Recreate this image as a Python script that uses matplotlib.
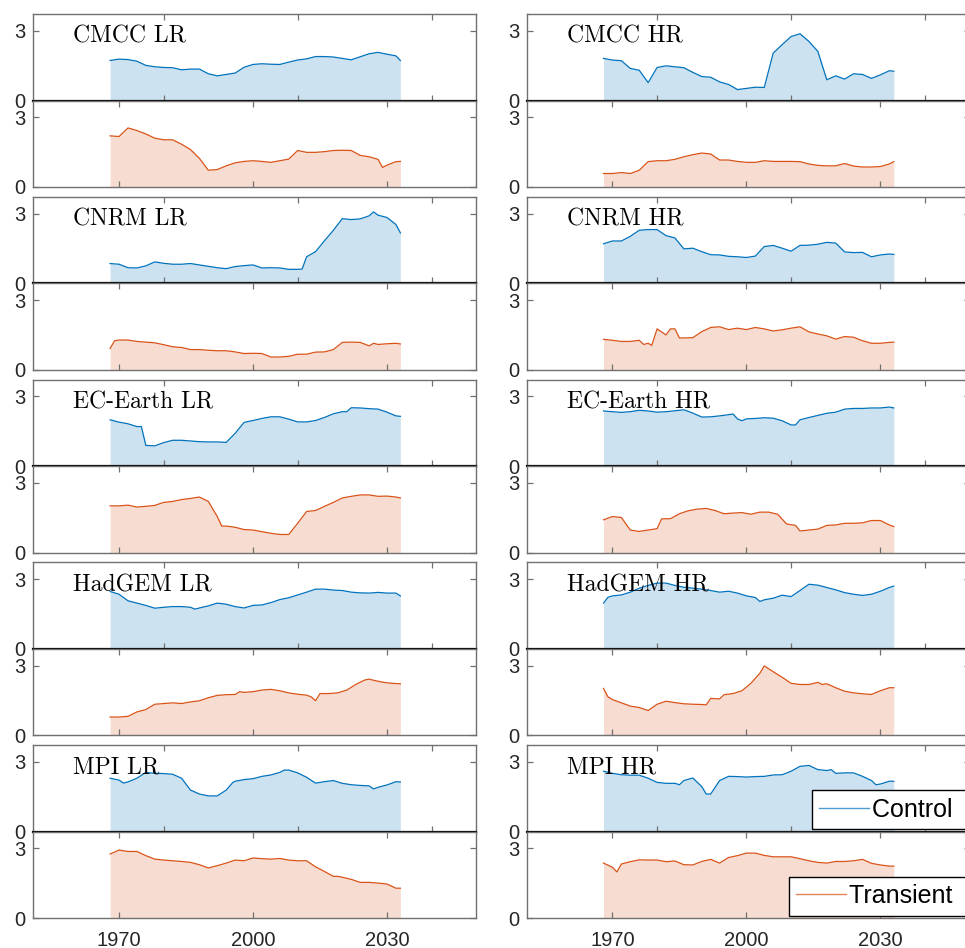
import matplotlib
matplotlib.use('Agg')
import matplotlib.pyplot as plt
from matplotlib.lines import Line2D

plt.rcParams['font.family'] = ['Liberation Sans', 'DejaVu Sans']

# ---------------- data: (year, value) pairs ----------------
cmcc_lr_ctrl = [(1968,1.72),(1970,1.78),(1972,1.76),(1974,1.69),(1976,1.51),(1978,1.45),(1980,1.42),(1982,1.41),
                (1984,1.32),(1986,1.35),(1988,1.35),(1990,1.15),(1992,1.06),(1994,1.12),(1996,1.18),(1998,1.43),
                (2000,1.55),(2002,1.58),(2004,1.56),(2006,1.55),(2008,1.65),(2010,1.74),(2012,1.79),(2014,1.89),
                (2016,1.89),(2018,1.87),(2020,1.81),(2022,1.75),(2024,1.88),(2026,2.01),(2028,2.07),(2030,1.99),
                (2032,1.92),(2033,1.72)]
cmcc_lr_tran = [(1968,2.20),(1970,2.17),(1972,2.54),(1974,2.43),(1976,2.28),(1978,2.10),(1980,2.03),(1982,2.03),
                (1984,1.84),(1986,1.61),(1988,1.23),(1990,0.72),(1992,0.75),(1994,0.91),(1996,1.04),(1998,1.10),
                (2000,1.13),(2002,1.10),(2004,1.06),(2006,1.13),(2008,1.20),(2010,1.57),(2012,1.49),(2014,1.49),
                (2016,1.52),(2018,1.57),(2020,1.58),(2022,1.57),(2024,1.36),(2026,1.30),(2028,1.19),(2029,0.84),
                (2030,0.94),(2032,1.09),(2033,1.10)]
cmcc_hr_ctrl = [(1968,1.81),(1970,1.74),(1972,1.71),(1974,1.38),(1976,1.30),(1978,0.77),(1980,1.42),(1982,1.49),
                (1984,1.45),(1986,1.41),(1988,1.21),(1990,1.03),(1992,1.00),(1994,0.80),(1996,0.69),(1998,0.47),
                (2000,0.52),(2002,0.57),(2004,0.56),(2006,2.04),(2008,2.40),(2010,2.75),(2012,2.87),(2014,2.54),
                (2016,2.11),(2018,0.89),(2020,1.06),(2022,0.92),(2024,1.15),(2026,1.12),(2028,0.95),(2030,1.10),
                (2032,1.28),(2033,1.26)]
cmcc_hr_tran = [(1968,0.58),(1970,0.58),(1972,0.62),(1974,0.58),(1976,0.72),(1978,1.09),(1980,1.13),(1982,1.13),
                (1984,1.19),(1986,1.30),(1988,1.39),(1990,1.46),(1992,1.42),(1994,1.16),(1996,1.16),(1998,1.10),
                (2000,1.06),(2002,1.06),(2004,1.13),(2006,1.10),(2008,1.10),(2010,1.10),(2012,1.09),(2014,0.99),
                (2016,0.93),(2018,0.91),(2020,0.91),(2022,1.01),(2024,0.90),(2026,0.86),(2028,0.86),(2030,0.88),
                (2032,0.99),(2033,1.09)]

cnrm_lr_ctrl = [(1968,0.85),(1970,0.82),(1972,0.67),(1974,0.66),(1976,0.75),(1978,0.92),(1980,0.86),(1982,0.82),
                (1984,0.82),(1986,0.85),(1988,0.79),(1990,0.73),(1992,0.67),(1994,0.63),(1996,0.72),(1998,0.76),
                (2000,0.79),(2002,0.66),(2004,0.67),(2006,0.66),(2008,0.60),(2010,0.60),(2011,0.61),(2012,1.14),
                (2014,1.36),(2016,1.83),(2018,2.28),(2020,2.78),(2022,2.74),(2024,2.77),(2026,2.90),(2027,3.07),
                (2028,2.93),(2030,2.83),(2032,2.53),(2033,2.17)]
cnrm_lr_tran = [(1968,0.92),(1969,1.25),(1970,1.28),(1972,1.28),(1974,1.22),(1976,1.19),(1978,1.16),(1980,1.08),
                (1982,0.99),(1984,0.96),(1986,0.87),(1988,0.87),(1990,0.84),(1992,0.82),(1994,0.82),(1996,0.77),
                (1998,0.70),(2000,0.71),(2002,0.70),(2004,0.55),(2006,0.55),(2008,0.58),(2010,0.67),(2012,0.67),
                (2014,0.76),(2016,0.77),(2018,0.87),(2020,1.18),(2022,1.19),(2024,1.18),(2026,1.03),(2027,1.14),
                (2028,1.09),(2030,1.12),(2032,1.14),(2033,1.11)]
cnrm_hr_ctrl = [(1968,1.70),(1970,1.82),(1972,1.82),(1974,2.02),(1976,2.28),(1978,2.31),(1980,2.31),(1982,2.05),
                (1984,1.95),(1986,1.48),(1988,1.51),(1990,1.36),(1992,1.23),(1994,1.22),(1996,1.16),(1998,1.14),
                (2000,1.11),(2002,1.17),(2004,1.58),(2006,1.63),(2008,1.51),(2010,1.38),(2012,1.63),(2014,1.64),
                (2016,1.68),(2018,1.76),(2020,1.73),(2022,1.35),(2024,1.32),(2026,1.33),(2028,1.14),(2030,1.22),
                (2032,1.26),(2033,1.24)]
cnrm_hr_tran = [(1968,1.31),(1970,1.27),(1972,1.22),(1974,1.22),(1976,1.27),(1977,1.09),(1978,1.14),(1978.8,1.05),
                (1980,1.76),(1982,1.50),(1983,1.76),(1984,1.76),(1985,1.37),(1986,1.37),(1988,1.38),(1990,1.64),
                (1992,1.82),(1994,1.85),(1996,1.73),(1998,1.79),(2000,1.73),(2002,1.82),(2004,1.76),(2006,1.67),
                (2008,1.72),(2010,1.79),(2012,1.85),(2014,1.63),(2016,1.54),(2018,1.46),(2020,1.32),(2022,1.43),
                (2024,1.40),(2026,1.25),(2028,1.14),(2030,1.14),(2032,1.18),(2033,1.19)]

ec_lr_ctrl = [(1968,1.99),(1970,1.89),(1972,1.82),(1974,1.70),(1975,1.70),(1976,0.89),(1978,0.87),(1980,1.01),
              (1982,1.11),(1984,1.11),(1986,1.08),(1988,1.05),(1990,1.04),(1992,1.04),(1994,1.02),(1996,1.41),
              (1998,1.88),(2000,1.96),(2002,2.05),(2004,2.12),(2006,2.12),(2008,2.02),(2010,1.90),(2012,1.90),
              (2014,1.96),(2016,2.09),(2018,2.25),(2020,2.34),(2021,2.34),(2022,2.51),(2024,2.50),(2026,2.47),
              (2028,2.45),(2030,2.32),(2032,2.16),(2033,2.14)]
ec_lr_tran = [(1968,2.01),(1970,2.01),(1972,2.04),(1974,1.96),(1976,1.99),(1978,2.03),(1980,2.16),(1982,2.20),
              (1984,2.28),(1986,2.33),(1988,2.39),(1990,2.20),(1992,1.55),(1993,1.14),(1994,1.14),(1996,1.09),
              (1998,0.99),(2000,0.97),(2002,0.90),(2004,0.83),(2006,0.78),(2008,0.78),(2010,1.26),(2012,1.77),
              (2014,1.81),(2016,1.99),(2018,2.16),(2020,2.35),(2022,2.42),(2024,2.48),(2026,2.48),(2028,2.42),
              (2030,2.43),(2032,2.39),(2033,2.35)]
ec_hr_ctrl = [(1968,2.37),(1970,2.34),(1972,2.31),(1974,2.34),(1976,2.40),(1978,2.37),(1980,2.32),(1982,2.34),
              (1984,2.38),(1986,2.42),(1988,2.28),(1990,2.11),(1992,2.12),(1994,2.16),(1996,2.21),(1997,2.24),
              (1998,2.03),(1999,1.95),(2000,2.03),(2002,2.05),(2004,2.08),(2006,2.06),(2008,1.95),(2010,1.77),
              (2011,1.77),(2012,1.99),(2014,2.09),(2016,2.18),(2018,2.27),(2020,2.32),(2022,2.45),(2024,2.48),
              (2026,2.48),(2028,2.50),(2030,2.50),(2032,2.54),(2033,2.50)]
ec_hr_tran = [(1968,1.41),(1970,1.55),(1972,1.51),(1974,0.97),(1976,0.91),(1978,0.97),(1980,1.03),(1981,1.45),
              (1983,1.46),(1985,1.67),(1987,1.80),(1989,1.87),(1991,1.90),(1993,1.81),(1995,1.67),(1997,1.70),
              (1999,1.72),(2001,1.65),(2003,1.74),(2005,1.74),(2007,1.65),(2009,1.23),(2011,1.17),(2012,0.93),
              (2014,0.97),(2016,1.01),(2018,1.17),(2020,1.19),(2022,1.26),(2024,1.26),(2026,1.28),(2028,1.38),
              (2030,1.38),(2032,1.19),(2033,1.12)]

had_lr_ctrl = [(1968,2.47),(1970,2.35),(1972,2.07),(1974,1.97),(1976,1.87),(1978,1.75),(1980,1.79),(1982,1.82),
               (1984,1.82),(1986,1.79),(1987,1.71),(1988,1.76),(1990,1.85),(1992,1.97),(1994,1.92),(1996,1.82),
               (1998,1.76),(2000,1.87),(2002,1.89),(2004,1.99),(2006,2.12),(2008,2.20),(2010,2.32),(2012,2.44),
               (2014,2.57),(2016,2.57),(2018,2.53),(2020,2.51),(2022,2.44),(2024,2.41),(2026,2.40),(2028,2.43),
               (2030,2.40),(2032,2.40),(2033,2.28)]
had_lr_tran = [(1968,0.79),(1970,0.79),(1972,0.82),(1974,1.01),(1976,1.11),(1978,1.34),(1980,1.37),(1982,1.40),
               (1984,1.37),(1986,1.44),(1988,1.49),(1990,1.62),(1992,1.72),(1994,1.75),(1996,1.76),(1997,1.88),
               (1998,1.85),(2000,1.88),(2002,1.95),(2004,1.98),(2006,1.92),(2008,1.83),(2010,1.77),(2012,1.73),
               (2013,1.66),(2014,1.49),(2015,1.80),(2017,1.80),(2019,1.83),(2021,1.95),(2023,2.19),(2025,2.38),
               (2026,2.42),(2027,2.37),(2029,2.29),(2031,2.24),(2033,2.22)]
had_hr_ctrl = [(1968,1.97),(1969,2.22),(1970,2.28),(1972,2.32),(1974,2.44),(1976,2.61),(1978,2.73),(1980,2.83),
               (1982,2.83),(1984,2.73),(1986,2.65),(1988,2.61),(1990,2.57),(1992,2.51),(1994,2.44),(1996,2.48),
               (1998,2.40),(2000,2.28),(2002,2.21),(2003,2.04),(2004,2.11),(2006,2.18),(2008,2.31),(2010,2.25),
               (2012,2.51),(2014,2.78),(2016,2.74),(2018,2.64),(2020,2.54),(2022,2.42),(2024,2.35),(2026,2.30),
               (2028,2.35),(2030,2.48),(2032,2.64),(2033,2.70)]
had_hr_tran = [(1968,2.02),(1969,1.66),(1970,1.54),(1972,1.40),(1974,1.26),(1976,1.20),(1978,1.07),(1980,1.34),
               (1982,1.47),(1984,1.41),(1986,1.36),(1988,1.34),(1990,1.33),(1991,1.31),(1992,1.59),(1994,1.57),
               (1995,1.75),(1997,1.80),(1999,1.92),(2001,2.24),(2003,2.67),(2004,2.99),(2006,2.74),(2008,2.50),
               (2010,2.24),(2012,2.19),(2014,2.19),(2016,2.28),(2017,2.19),(2018,2.22),(2020,2.05),(2022,1.90),
               (2024,1.83),(2026,1.79),(2028,1.76),(2030,1.92),(2032,2.05),(2033,2.05)]

mpi_lr_ctrl = [(1968,2.30),(1970,2.22),(1971,2.09),(1972,2.14),(1974,2.30),(1976,2.55),(1978,2.51),(1980,2.50),
               (1982,2.47),(1984,2.30),(1986,1.79),(1988,1.62),(1990,1.54),(1992,1.54),(1994,1.79),(1995.5,2.12),
               (1996,2.17),(1998,2.24),(2000,2.28),(2002,2.38),(2004,2.44),(2006,2.55),(2007,2.65),(2008,2.65),
               (2010,2.53),(2012,2.34),(2014,2.09),(2016,2.15),(2018,2.20),(2020,2.08),(2022,2.02),(2024,1.99),
               (2026,1.97),(2027,1.84),(2028,1.91),(2030,2.01),(2032,2.15),(2033,2.14)]
mpi_lr_tran = [(1968,2.76),(1970,2.93),(1972,2.87),(1974,2.87),(1976,2.69),(1978,2.54),(1980,2.50),(1982,2.47),
               (1984,2.44),(1986,2.40),(1988,2.30),(1990,2.16),(1992,2.26),(1994,2.37),(1996,2.50),(1998,2.47),
               (2000,2.59),(2002,2.56),(2004,2.54),(2006,2.57),(2008,2.50),(2010,2.47),(2012,2.47),(2014,2.21),
               (2016,2.01),(2018,1.80),(2019,1.80),(2020,1.76),(2022,1.67),(2024,1.54),(2026,1.54),(2028,1.51),
               (2030,1.47),(2032,1.29),(2033,1.29)]
mpi_hr_ctrl = [(1968,2.60),(1970,2.51),(1972,2.45),(1974,2.43),(1976,2.43),(1978,2.30),(1980,2.12),(1982,2.08),
               (1984,2.08),(1985,2.02),(1986,2.20),(1988,2.31),(1990,1.94),(1991,1.62),(1992,1.62),(1994,2.20),
               (1996,2.38),(1998,2.37),(2000,2.35),(2002,2.37),(2004,2.38),(2006,2.44),(2008,2.45),(2010,2.60),
               (2012,2.81),(2014,2.85),(2016,2.67),(2018,2.63),(2019,2.67),(2020,2.51),(2022,2.53),(2024,2.53),
               (2026,2.38),(2028,2.20),(2029,2.02),(2030,2.05),(2032,2.17),(2033,2.17)]
mpi_hr_tran = [(1968,2.37),(1970,2.19),(1971,1.99),(1972,2.33),(1974,2.43),(1976,2.51),(1978,2.50),(1980,2.50),
               (1982,2.43),(1984,2.46),(1986,2.30),(1988,2.29),(1990,2.44),(1992,2.53),(1994,2.37),(1996,2.61),
               (1998,2.69),(2000,2.80),(2002,2.80),(2004,2.70),(2006,2.64),(2008,2.64),(2010,2.64),(2012,2.56),
               (2014,2.47),(2016,2.40),(2018,2.37),(2020,2.44),(2022,2.44),(2024,2.47),(2026,2.53),(2028,2.36),
               (2030,2.29),(2032,2.24),(2033,2.24)]

models = ['CMCC', 'CNRM', 'EC-Earth', 'HadGEM', 'MPI']
resolutions = ['LR', 'HR']
control_series = [[cmcc_lr_ctrl, cmcc_hr_ctrl], [cnrm_lr_ctrl, cnrm_hr_ctrl], [ec_lr_ctrl, ec_hr_ctrl],
                  [had_lr_ctrl, had_hr_ctrl], [mpi_lr_ctrl, mpi_hr_ctrl]]
transient_series = [[cmcc_lr_tran, cmcc_hr_tran], [cnrm_lr_tran, cnrm_hr_tran], [ec_lr_tran, ec_hr_tran],
                    [had_lr_tran, had_hr_tran], [mpi_lr_tran, mpi_hr_tran]]
xtick_labels = ['1970', '2000', '2030']
legend_labels = ['Control', 'Transient']

# ---------------- style ----------------
CTRL_COLOR = '#0072BD'
TRAN_COLOR = '#D95319'
SPINE_COLOR = '#707070'
XLIM = (1950.8, 2050)
YLIM = (0, 3.72)
TRAN_TICKS = [1970, 2000, 2030]
CTRL_TICKS = [1980, 2010, 2040]

W, H = 965, 948
fig = plt.figure(figsize=(W / 100, H / 100), dpi=100)

col_left_px = [33.3, 526.7]
ax_w_px = 443
group_top_px = [14 + 182.8 * i for i in range(5)]
ax_h_px = 86.5


def make_ax(left_px, top_px):
    return fig.add_axes([left_px / W, 1 - (top_px + ax_h_px) / H, ax_w_px / W, ax_h_px / H])


def style(ax, ticks, show_xlabels):
    ax.set_xlim(*XLIM)
    ax.set_ylim(*YLIM)
    ax.set_xticks(ticks)
    if show_xlabels:
        ax.set_xticklabels(xtick_labels)
    ax.set_yticks([0, 3])
    ax.set_yticklabels(['0', '3'])
    ax.tick_params(direction='in', top=True, right=True, length=4, width=0.9,
                   color=SPINE_COLOR, labelcolor='#262626', labelsize=14.5)
    ax.tick_params(axis='y', pad=5.5)
    ax.tick_params(axis='x', pad=9.3, labelbottom=show_xlabels)
    for s in ax.spines.values():
        s.set_color(SPINE_COLOR)
        s.set_linewidth(1.0)


def draw(ax, series, color):
    xs = [p[0] for p in series]
    ys = [p[1] for p in series]
    ax.fill_between(xs, 0, ys, color=color, alpha=0.2, lw=0)
    ax.plot(xs, ys, color=color, lw=0.9)


for g, model in enumerate(models):
    for c, res in enumerate(resolutions):
        top = group_top_px[g]
        axc = make_ax(col_left_px[c], top)
        axt = make_ax(col_left_px[c], top + ax_h_px)
        draw(axc, control_series[g][c], CTRL_COLOR)
        draw(axt, transient_series[g][c], TRAN_COLOR)
        style(axc, CTRL_TICKS, False)
        style(axt, TRAN_TICKS, g == len(models) - 1)
        axc.spines['bottom'].set_color('black')
        axc.spines['bottom'].set_linewidth(1.6)
        axc.spines['bottom'].set_zorder(5)
        axc.text(0.09, 0.668, f'{model} {res}', transform=axc.transAxes,
                 fontfamily='cmr10', fontsize=17, va='baseline', ha='left', color='black', zorder=6)
        if g == len(models) - 1 and c == 1:
            for ax, col, lab in [(axc, CTRL_COLOR, legend_labels[0]), (axt, TRAN_COLOR, legend_labels[1])]:
                leg = ax.legend([Line2D([], [], color=col, lw=1.0, alpha=0.7)], [lab + ' '], loc='lower right',
                                fontsize=18, frameon=True, fancybox=False, framealpha=1,
                                edgecolor='black', handlelength=2.0, handletextpad=0.12,
                                borderpad=0.3, borderaxespad=0.1)
                leg.get_frame().set_linewidth(1.0)
                leg.set_zorder(10)

fig.savefig('out.png', dpi=100)
